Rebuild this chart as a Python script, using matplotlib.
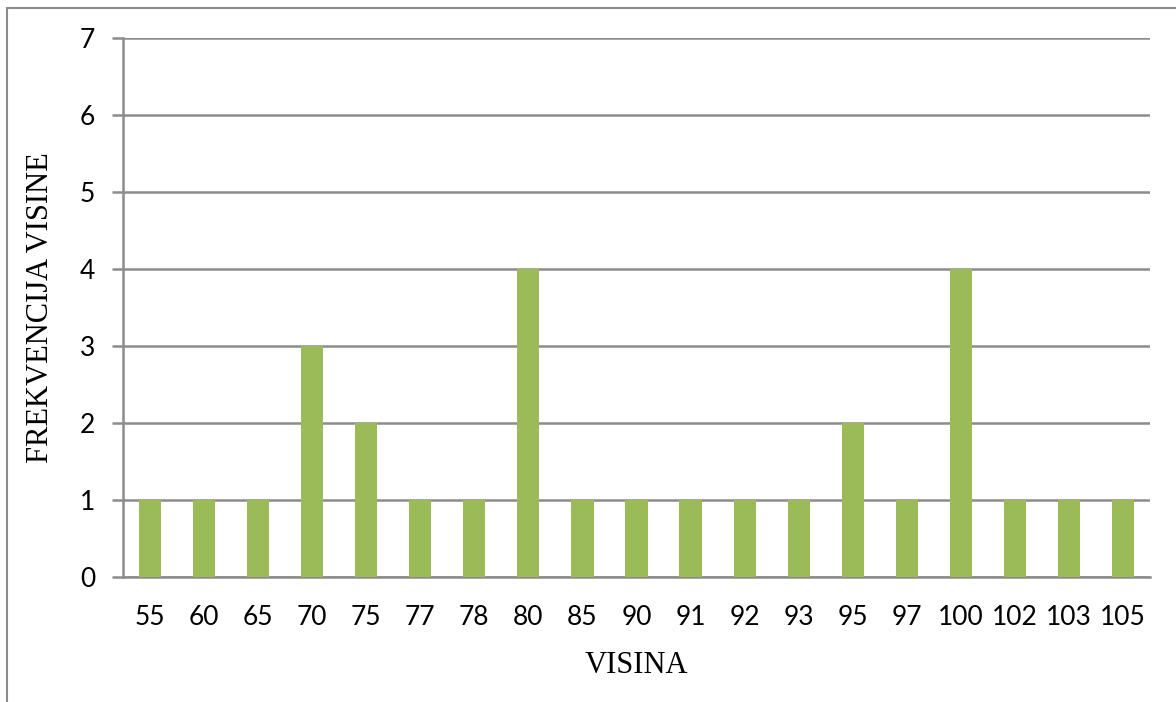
import matplotlib.pyplot as plt
import numpy as np
from matplotlib.patches import Rectangle

# data
visina = ['55', '60', '65', '70', '75', '77', '78', '80', '85', '90',
          '91', '92', '93', '95', '97', '100', '102', '103', '105']
frekvencija = [1, 1, 1, 3, 2, 1, 1, 4, 1, 1, 1, 1, 1, 2, 1, 4, 1, 1, 1]

W, H = 1176, 702
fig = plt.figure(figsize=(W / 100, H / 100), dpi=100)
ax = fig.add_axes([123 / W, 1 - 577 / H, (1150 - 123) / W, (577 - 38) / H])

# outer chart border (cut at right and bottom)
fig.patches.append(Rectangle((7 / W, -0.1), 1.2, 1 - 8 / H + 0.1, transform=fig.transFigure,
                             fill=False, edgecolor='#8c8c8c', linewidth=1.5))

x = np.arange(len(visina))
ax.bar(x, frekvencija, width=0.41, color='#9bbb59', zorder=3)

ax.set_xlim(-0.5, len(visina) - 0.5)
ax.set_ylim(0, 7)
ax.set_yticks(range(0, 8))
ax.set_xticks(x)
ax.set_xticklabels(visina)

for lab in ax.get_xticklabels() + ax.get_yticklabels():
    lab.set_fontfamily(['Lato', 'DejaVu Sans'])
    lab.set_fontsize(19)

ax.grid(axis='y', color='#8c8c8c', linewidth=1.8, zorder=0)
for s in ['top', 'right']:
    ax.spines[s].set_visible(False)
for s in ['left', 'bottom']:
    ax.spines[s].set_color('#8c8c8c')
    ax.spines[s].set_linewidth(1.8)
ax.tick_params(axis='y', length=8, width=1.8, color='#8c8c8c', pad=12)
ax.tick_params(axis='x', length=0, pad=20)

ax.set_xlabel('VISINA', family='Liberation Serif', fontsize=22, labelpad=15)
ax.set_ylabel('FREKVENCIJA VISINE', family='Liberation Serif', fontsize=22, labelpad=18)

fig.savefig('out.png', dpi=100)
